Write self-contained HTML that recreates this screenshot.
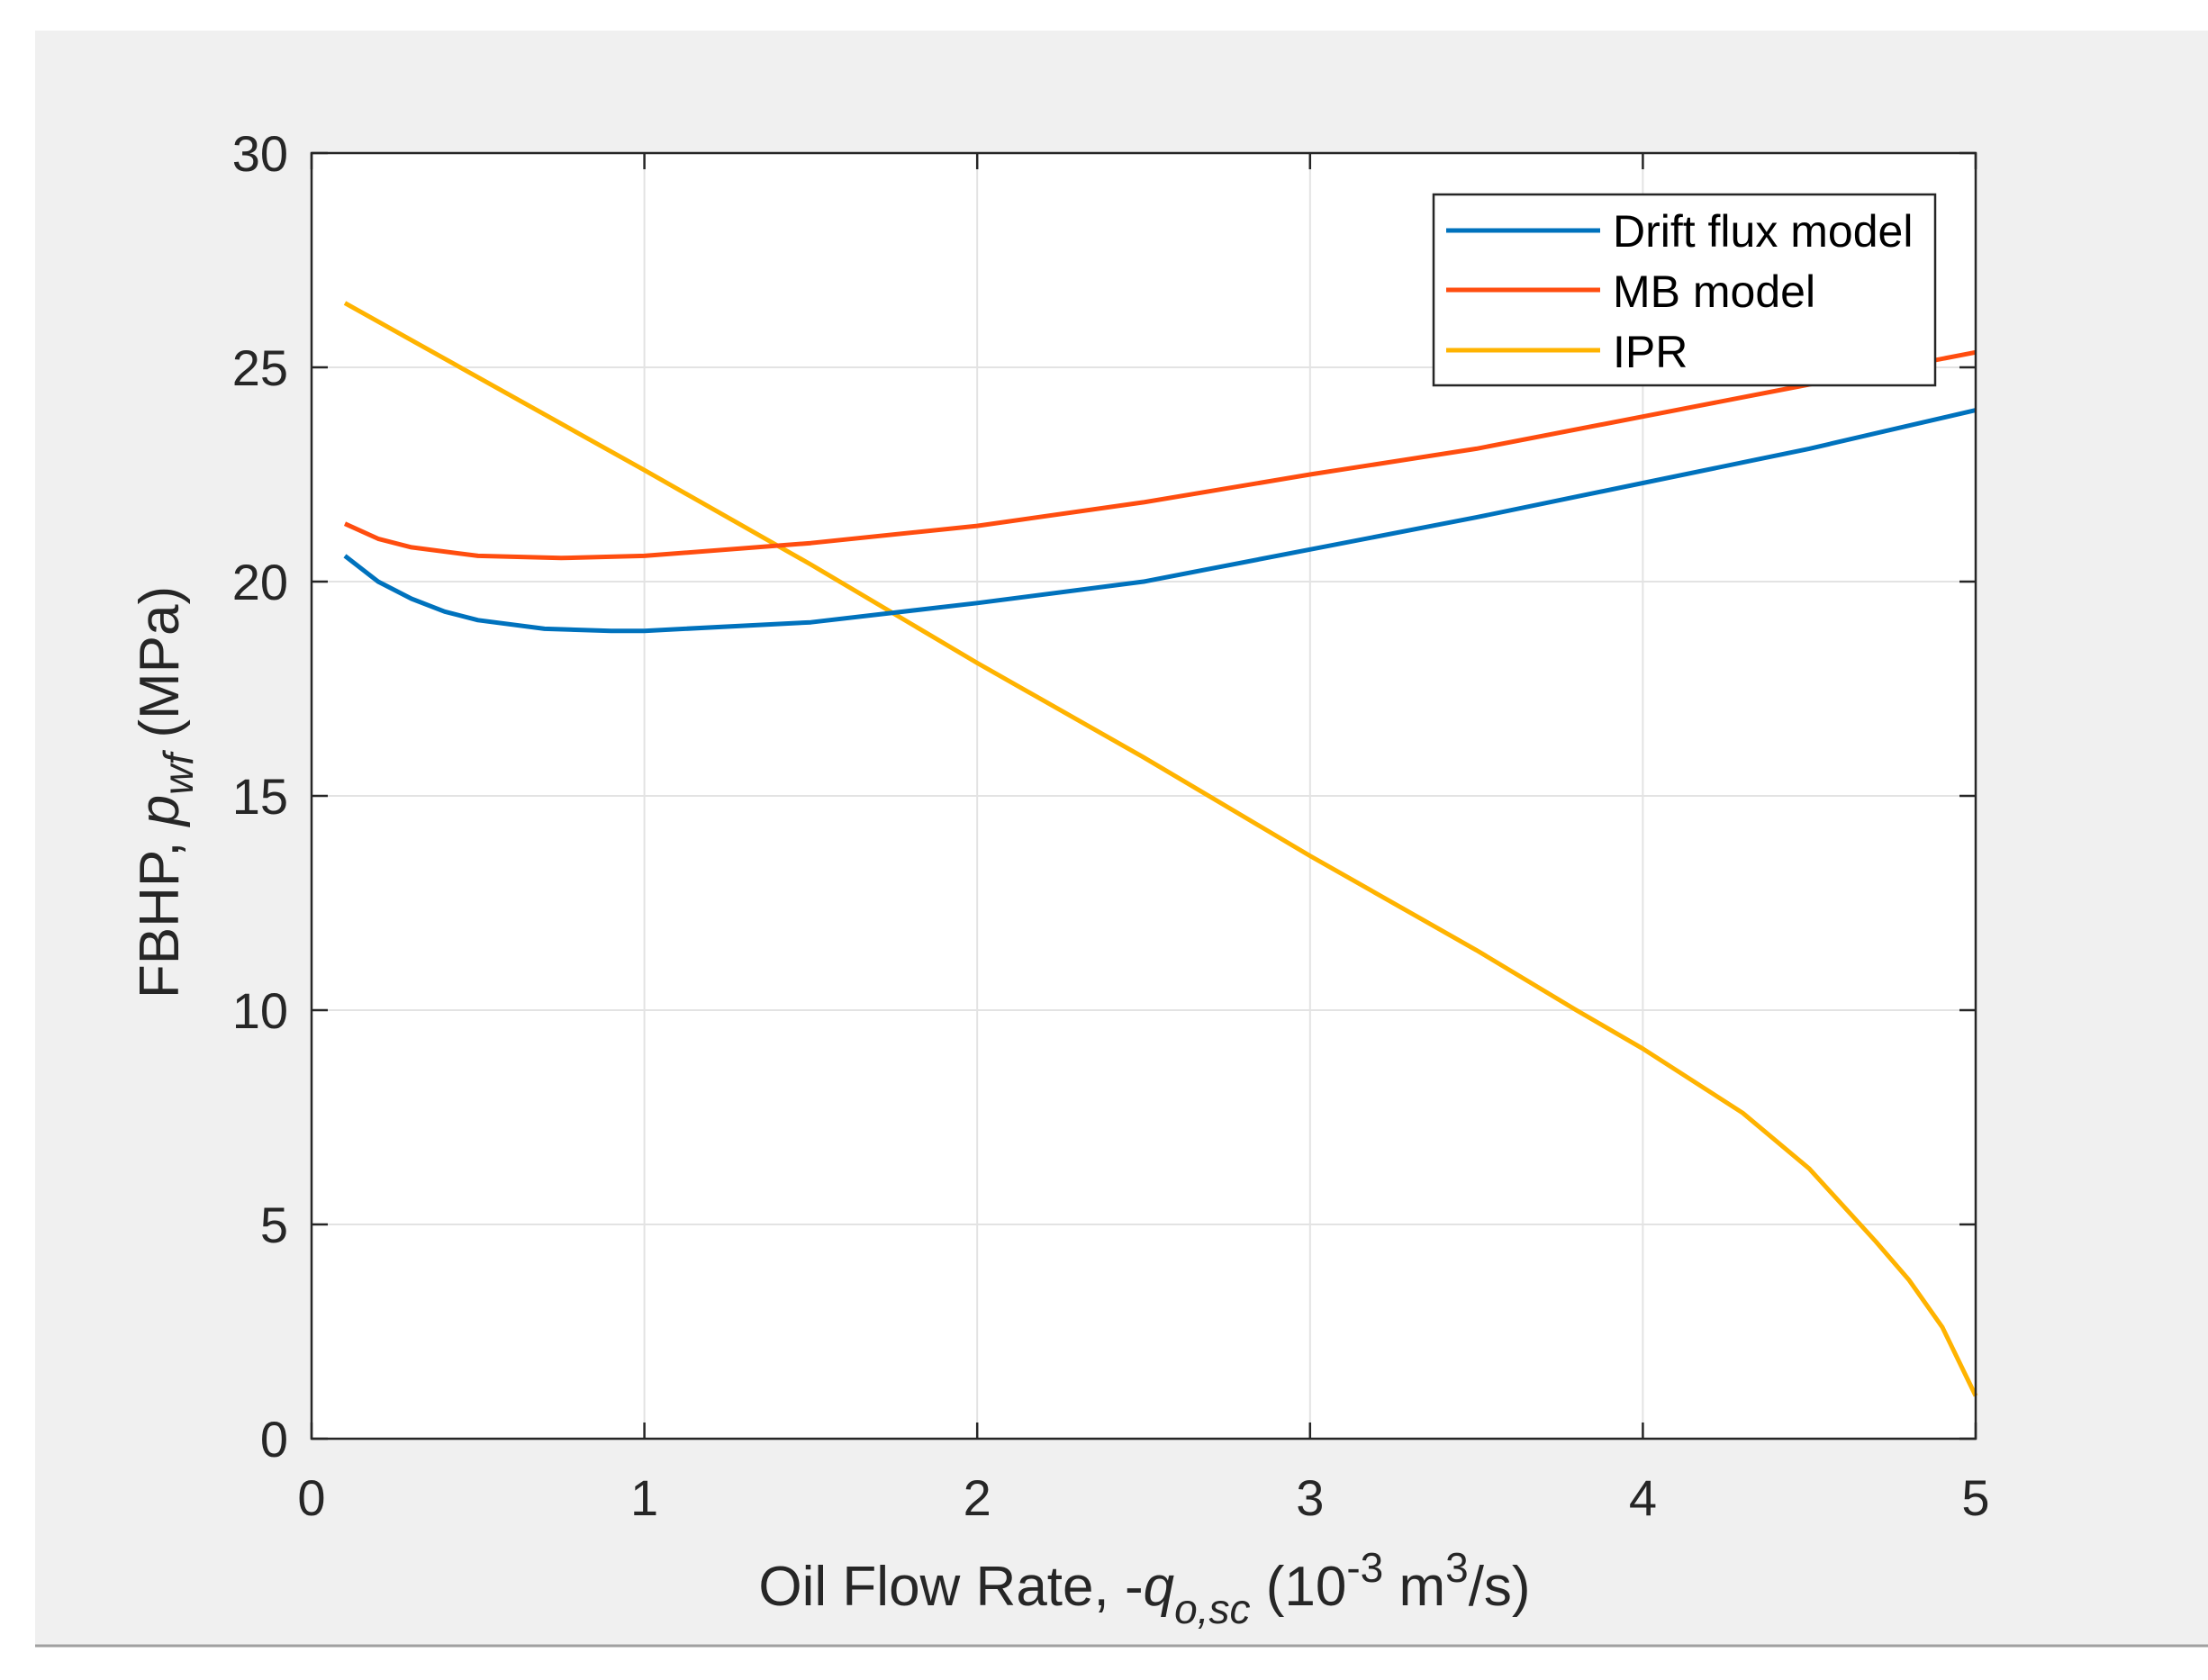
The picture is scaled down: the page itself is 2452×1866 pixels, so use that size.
<!DOCTYPE html>
<html><head><meta charset="utf-8"><style>
html,body{margin:0;padding:0;background:#fff;}
svg{display:block;font-family:"Liberation Sans",sans-serif;}
</style></head><body>
<svg id="chart" width="2452" height="1866" viewBox="0 0 2452 1866">
<rect x="39" y="34" width="2413" height="1793" fill="#f0f0f0"/>
<line x1="39" y1="1828" x2="2452" y2="1828" stroke="#a0a0a0" stroke-width="3"/>
<rect x="346" y="170" width="1848" height="1428" fill="#fff"/>
<g id="grid"></g>
<g id="series"></g>
<rect x="346" y="170" width="1848" height="1428" fill="none" stroke="#262626" stroke-width="2.5"/>
<g id="ticks"></g>
<text x="0" y="0" transform="translate(198,880) rotate(-90)" text-anchor="middle" font-size="62" fill="#262626">FBHP, <tspan font-style="italic">p</tspan><tspan font-style="italic" font-size="46" dy="16">wf</tspan><tspan dy="-16"> (MPa)</tspan></text>
<text x="1271" y="1783" text-anchor="middle" font-size="62" fill="#262626">Oil Flow Rate, -<tspan font-style="italic">q</tspan><tspan font-style="italic" font-size="46" dy="20">o,sc</tspan><tspan dy="-20"> (10</tspan><tspan font-size="46" dy="-26">-3</tspan><tspan dy="26"> m</tspan><tspan font-size="46" dy="-26">3</tspan><tspan dy="26">/s)</tspan></text>
<g>
<rect x="1592" y="216" width="557" height="212" fill="#fff" stroke="#262626" stroke-width="2.5"/>
<line x1="1606" y1="256" x2="1777" y2="256" stroke="#0072bd" stroke-width="5"/>
<text x="1791" y="274" font-size="50" fill="#000">Drift flux model</text>
<line x1="1606" y1="322" x2="1777" y2="322" stroke="#ff4d0f" stroke-width="5"/>
<text x="1791" y="341" font-size="50" fill="#000">MB model</text>
<line x1="1606" y1="389" x2="1777" y2="389" stroke="#ffb300" stroke-width="5"/>
<text x="1791" y="408" font-size="50" fill="#000">IPR</text>
</g>
</svg>
<script>
const xTicks=[0,1,2,3,4,5];
const yTicks=[0,5,10,15,20,25,30];
const driftQ=[0.1,0.2,0.3,0.4,0.5,0.7,0.9,1.0,1.5,2.0,2.5,3.0,3.5,4.0,4.5,5.0];
const driftP=[20.6,20.0,19.6,19.3,19.1,18.9,18.85,18.85,19.05,19.5,20.0,20.75,21.5,22.3,23.1,24.0];
const mbQ=[0.1,0.2,0.3,0.5,0.75,1.0,1.5,2.0,2.5,3.0,3.5,4.0,4.5,5.0];
const mbP=[21.35,21.0,20.8,20.6,20.55,20.6,20.9,21.3,21.85,22.5,23.1,23.85,24.6,25.35];
const iprQ=[0.1,1.0,1.5,2.0,2.5,3.0,3.5,3.8,4.0,4.3,4.5,4.7,4.8,4.9,5.0];
const iprP=[26.5,22.6,20.4,18.1,15.9,13.6,11.4,10.0,9.1,7.6,6.3,4.6,3.7,2.6,1.0];
const X0=346,X1=2194,Y0=1598,Y1=170;
const sx=v=>X0+(v-0)/(5-0)*(X1-X0);
const sy=v=>Y0-(v-0)/(30-0)*(Y0-Y1);
const NS="http://www.w3.org/2000/svg";
const grid=document.getElementById('grid'),ticks=document.getElementById('ticks'),series=document.getElementById('series');
function mk(t,a){const e=document.createElementNS(NS,t);for(const k in a)e.setAttribute(k,a[k]);return e;}
xTicks.forEach(v=>{
 const x=sx(v);
 if(v>0&&v<5){const g=mk('line',{x1:x,y1:Y1,x2:x,y2:Y0,stroke:'#e3e3e3','stroke-width':2});
 
 grid.appendChild(g);}
 const t1=mk('line',{x1:x,y1:Y0,x2:x,y2:Y0-18,stroke:'#262626','stroke-width':2.5});
 
 ticks.appendChild(t1);
 const t2=mk('line',{x1:x,y1:Y1,x2:x,y2:Y1+18,stroke:'#262626','stroke-width':2.5});
 
 ticks.appendChild(t2);
 const l=mk('text',{x:x,y:1683,'text-anchor':'middle','font-size':56,fill:'#262626'});l.textContent=v;
 
 ticks.appendChild(l);
});
yTicks.forEach(v=>{
 const y=sy(v);
 if(v>0&&v<30){const g=mk('line',{x1:X0,y1:y,x2:X1,y2:y,stroke:'#e3e3e3','stroke-width':2});
 
 grid.appendChild(g);}
 const t1=mk('line',{x1:X0,y1:y,x2:X0+18,y2:y,stroke:'#262626','stroke-width':2.5});
 
 ticks.appendChild(t1);
 const t2=mk('line',{x1:X1,y1:y,x2:X1-18,y2:y,stroke:'#262626','stroke-width':2.5});
 
 ticks.appendChild(t2);
 const l=mk('text',{x:320,y:y+20,'text-anchor':'end','font-size':56,fill:'#262626'});l.textContent=v;
 
 ticks.appendChild(l);
});
function line(qs,ps,color,name){
 const d=qs.map((q,i)=>(i?'L':'M')+sx(q).toFixed(1)+','+sy(ps[i]).toFixed(1)).join(' ');
 const p=mk('path',{d:d,fill:'none',stroke:color,'stroke-width':5,'stroke-linejoin':'round'});
 
 
 series.appendChild(p);
}
line(iprQ,iprP,'#ffb300','ipr-line');
line(mbQ,mbP,'#ff4d0f','mb-model-line');
line(driftQ,driftP,'#0072bd','drift-flux-line');
</script>
</body></html>
